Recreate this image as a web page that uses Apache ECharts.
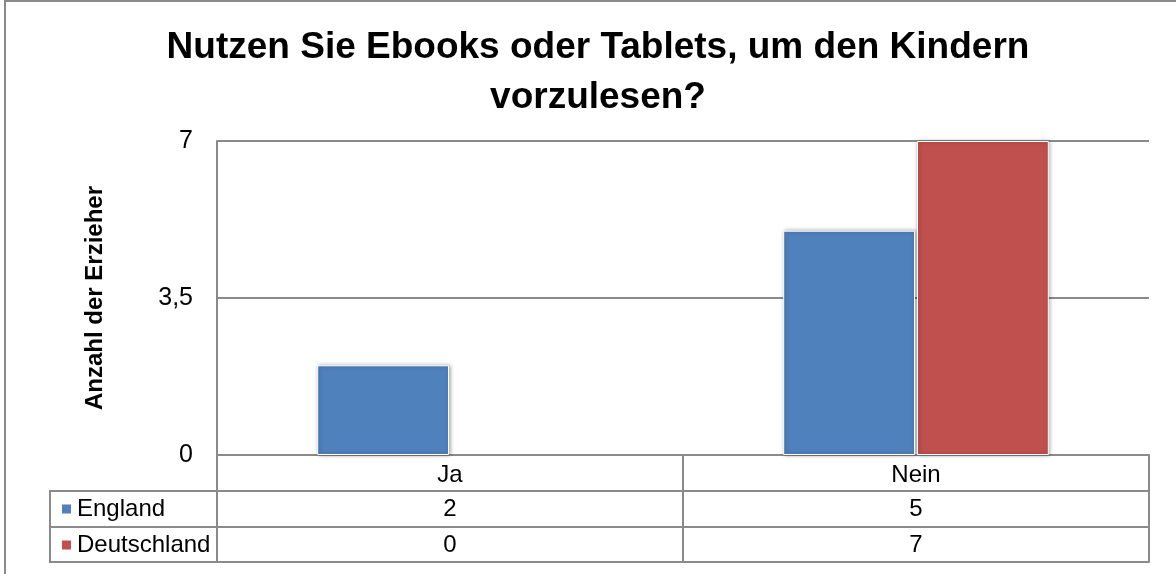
<!DOCTYPE html>
<html>
<head>
<meta charset="utf-8">
<script src="https://cdn.jsdelivr.net/npm/echarts@6/dist/echarts.min.js"></script>
<style>
  html, body { margin: 0; padding: 0; background: #fff; }
  #chart { width: 1176px; height: 574px; }
</style>
</head>
<body>
<div id="chart"></div>
<script>
  // Daten
  var categories = ['Ja', 'Nein'];
  var england = [2, 5];
  var deutschland = [0, 7];
  var seriesNames = ['England', 'Deutschland'];
  var yTicks = [0, 3.5, 7];

  var font = 'Liberation Sans, Arial, sans-serif';
  var lineColor = '#8a8a8a';

  var myChart = echarts.init(document.getElementById('chart'));

  function tableAxis(offset, values) {
    return {
      type: 'category',
      data: categories,
      position: 'bottom',
      offset: offset,
      axisLine: { show: true, lineStyle: { color: lineColor, width: 2 } },
      axisTick: { show: false },
      splitLine: { show: false },
      axisLabel: {
        show: !!values,
        interval: 0,
        margin: 6,
        color: '#000',
        fontFamily: font,
        fontSize: 24,
        formatter: function (v, i) { return values ? String(values[i]) : ''; }
      }
    };
  }

  // Balken mit Wert 0 nicht zeichnen (kein Schatten)
  function barData(values) {
    return values.map(function (v) {
      return v === 0 ? { value: v, itemStyle: { opacity: 0 } } : v;
    });
  }

  var barStyle = {
    borderColor: '#fff',
    borderWidth: 1,
    shadowBlur: 4,
    shadowColor: 'rgba(0,0,0,0.35)',
    shadowOffsetX: 1
  };

  myChart.setOption({
    animation: false,
    title: {
      text: 'Nutzen Sie Ebooks oder Tablets, um den Kindern\nvorzulesen?',
      left: 593,
      top: 18,
      textAlign: 'center',
      textStyle: {
        fontFamily: font,
        fontWeight: 'bold',
        fontSize: 37,
        lineHeight: 50,
        color: '#000'
      }
    },
    legend: {
      orient: 'vertical',
      left: 60,
      top: 497,
      padding: 0,
      itemWidth: 11,
      itemHeight: 11,
      itemGap: 12,
      icon: 'rect',
      selectedMode: false,
      data: seriesNames,
      textStyle: { fontFamily: font, fontSize: 24, lineHeight: 24, color: '#000' }
    },
    grid: {
      left: 217,
      right: 27,
      top: 141,
      bottom: 119,
      containLabel: false
    },
    xAxis: [
      {
        type: 'category',
        data: categories,
        position: 'bottom',
        axisLine: { show: true, lineStyle: { color: lineColor, width: 2 } },
        axisTick: {
          show: true,
          alignWithLabel: false,
          interval: 0,
          length: 107,
          lineStyle: { color: lineColor, width: 2 }
        },
        axisLabel: {
          interval: 0,
          margin: 8,
          color: '#000',
          fontFamily: font,
          fontSize: 24
        }
      },
      tableAxis(36, england),
      tableAxis(72, deutschland),
      tableAxis(107, null)
    ],
    yAxis: {
      type: 'value',
      min: yTicks[0],
      max: yTicks[yTicks.length - 1],
      interval: yTicks[1] - yTicks[0],
      name: 'Anzahl der Erzieher',
      nameLocation: 'middle',
      nameRotate: 90,
      nameGap: 110,
      nameTextStyle: { fontFamily: font, fontWeight: 'bold', fontSize: 24, color: '#000' },
      axisLine: { show: true, lineStyle: { color: lineColor, width: 2 } },
      axisTick: { show: false },
      splitLine: { show: true, lineStyle: { color: lineColor, width: 2 } },
      axisLabel: {
        margin: 24,
        color: '#000',
        fontFamily: font,
        fontSize: 25,
        formatter: function (v) { return String(v).replace('.', ','); }
      }
    },
    series: [
      {
        name: seriesNames[0],
        type: 'bar',
        data: barData(england),
        barCategoryGap: '43%',
        barGap: '1.5%',
        itemStyle: Object.assign({ color: '#4F81BD' }, barStyle)
      },
      {
        name: seriesNames[1],
        type: 'bar',
        data: barData(deutschland),
        itemStyle: Object.assign({ color: '#C0504D' }, barStyle)
      }
    ],
    graphic: [
      // äußerer Rahmen
      {
        type: 'rect',
        silent: true,
        z: -1,
        shape: { x: 5, y: 1, width: 1200, height: 620 },
        style: { fill: 'none', stroke: lineColor, lineWidth: 2 }
      },
      // linke Tabellenspalte
      {
        type: 'polyline',
        silent: true,
        shape: { points: [[217, 491], [50, 491], [50, 562], [217, 562]] },
        style: { stroke: lineColor, lineWidth: 2, fill: 'none' }
      },
      {
        type: 'line',
        silent: true,
        shape: { x1: 50, y1: 527, x2: 217, y2: 527 },
        style: { stroke: lineColor, lineWidth: 2 }
      }
    ]
  });

  window.onresize = function () {
    myChart.resize();
  };
</script>
</body>
</html>
